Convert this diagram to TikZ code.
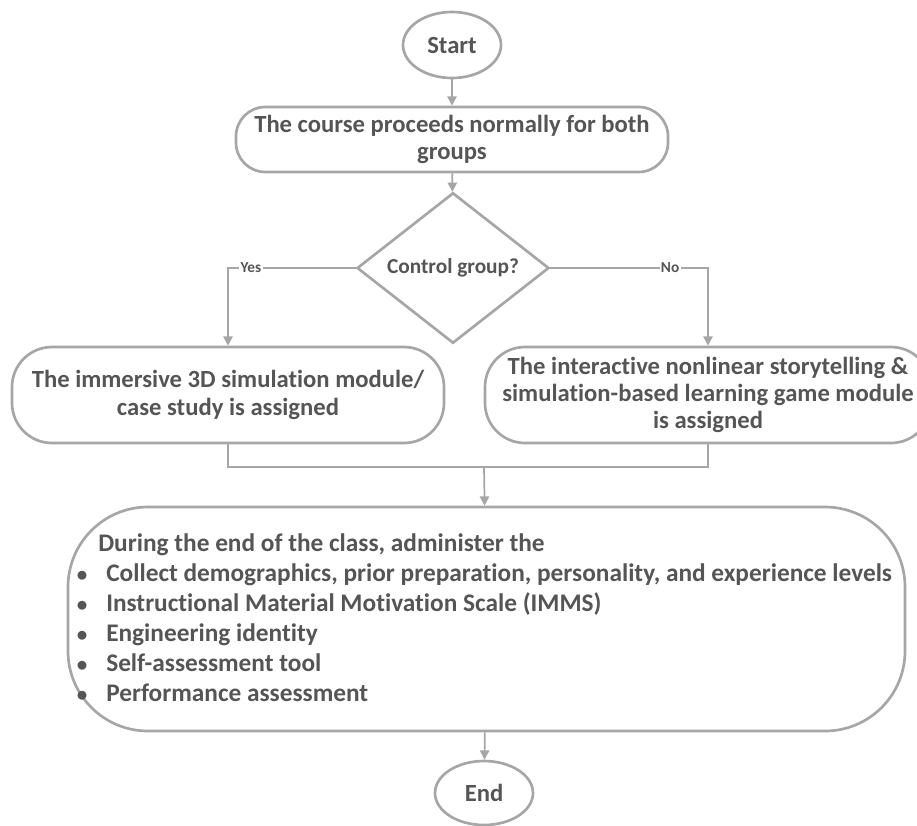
\documentclass[tikz,border=0pt]{standalone}
\usepackage{fontspec}
\setmainfont{Carlito}[Ligatures=NoCommon]
\usetikzlibrary{shapes.geometric,arrows.meta}

\definecolor{linegray}{HTML}{A6A6A6}
\definecolor{textgray}{HTML}{555555}

\tikzset{
    border/.style={draw=linegray, line width=2pt},
    terminal/.style={border, ellipse, minimum width=73.5pt, minimum height=49.5pt, inner sep=0pt},
    process/.style={border, rounded corners=22pt, align=center, inner sep=0pt},
    decision/.style={border, diamond, minimum width=144pt, minimum height=97.5pt, inner sep=0pt,
        font=\bfseries\fontsize{16}{20}\selectfont},
    flow/.style={draw=linegray, line width=1.3pt},
    arrow/.style={flow, -{Triangle[length=7pt, width=7pt]}},
    branch/.style={font=\bfseries\fontsize{11.5}{13}\selectfont, fill=white, inner sep=1pt}
}

\begin{document}
\begin{tikzpicture}[x=0.75pt, y=-0.75pt,
    every node/.append style={text=textgray, font=\bfseries\fontsize{18.5}{20.5}\selectfont}]
    \clip (0,0) rectangle (917,825);

    % flow chart nodes
    \node[terminal] (start) at (452,45) {Start};
    \node[process, minimum width=324pt, minimum height=48.75pt] (course) at (452,139.5)
        {The course proceeds normally for both\\groups};
    \node[decision] (control) at (453,268) {Control group?};
    \node[process, rounded corners=30pt, minimum width=324pt, minimum height=72pt] (immersive) at (228,395)
        {The immersive 3D simulation module/\\case study is assigned};
    \node[process, rounded corners=30pt, minimum width=334.5pt, minimum height=72pt] (story) at (708,395)
        {The interactive nonlinear storytelling \&\\simulation-based learning game module\\is assigned};
    \node[process, rounded corners=60pt, minimum width=627.75pt, minimum height=168pt] (survey) at (486.5,619) {};
    \node[terminal, minimum height=48pt] (end) at (484,793) {End};

    % text of the survey box
    \node[anchor=north west, inner sep=0pt, align=left] (items) at (76,530) {%
        \fontsize{19}{22.5}\selectfont
        \begin{tabular}{@{}p{22.5pt}@{}l@{}}
            \multicolumn{2}{@{\hspace{16.5pt}}l}{During the end of the class, administer the}\\
            $\bullet$ & Collect demographics, prior preparation, personality, and experience levels\\
            $\bullet$ & Instructional Material Motivation Scale (IMMS)\\
            $\bullet$ & Engineering identity\\
            $\bullet$ & Self-assessment tool\\
            $\bullet$ & Performance assessment
        \end{tabular}};

    % connectors
    \draw[arrow] (start) -- (course);
    \draw[arrow] (course) -- (control);
    \draw[arrow] (control.west) -| node[branch, pos=0.41] (yes) {Yes} (immersive.north);
    \draw[arrow] (control.east) -| node[branch, pos=0.38] (no) {No} (story.north);
    \coordinate (merge) at (484,467);
    \draw[flow] (immersive.south) |- (merge) -| (story.south);
    \draw[arrow] (merge) -- (survey);
    \draw[arrow] (survey) -- (end);
\end{tikzpicture}
\end{document}
